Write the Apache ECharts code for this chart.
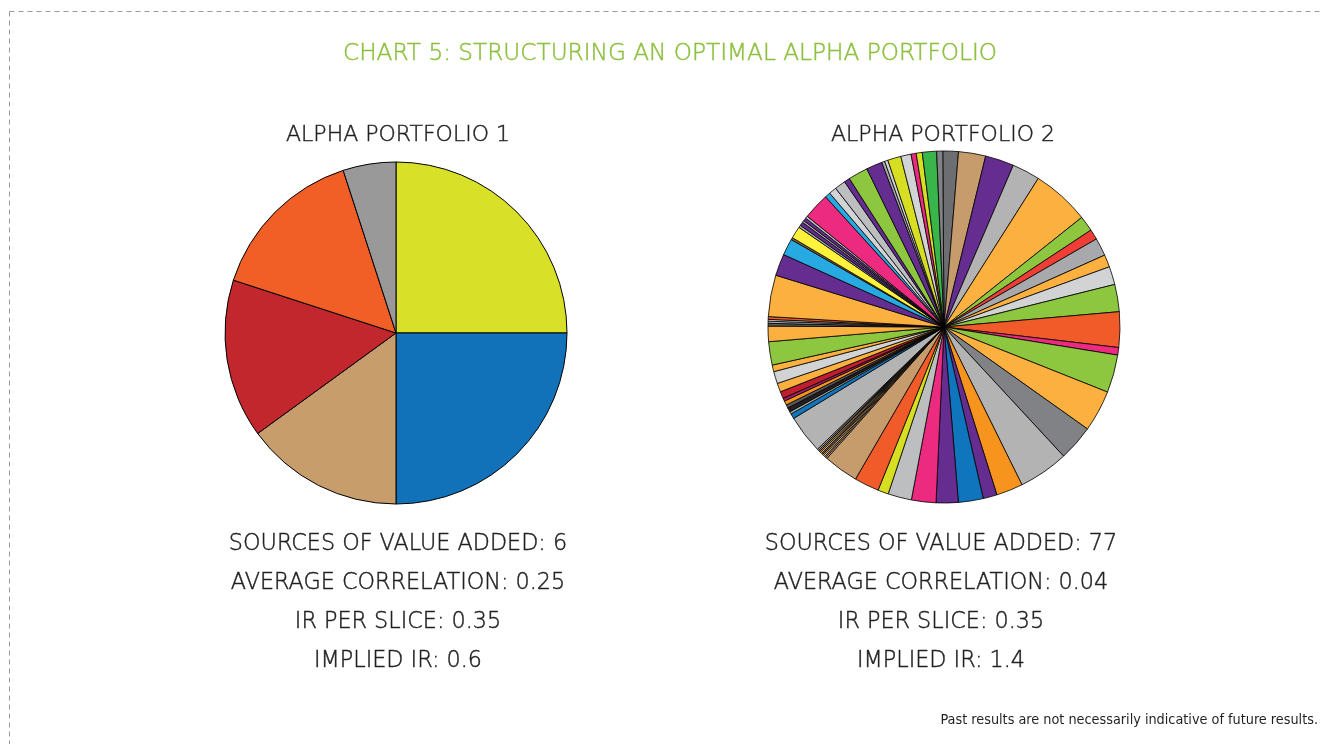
<!DOCTYPE html>
<html>
<head>
<meta charset="utf-8">
<script src="https://cdn.jsdelivr.net/npm/echarts@6/dist/echarts.min.js"></script>
<style>
html,body{margin:0;padding:0;background:#fff;}
#chart{width:1322px;height:744px;}
</style>
</head>
<body>
<div id="chart"></div>
<script>
// ---- Data ----
const chartTitle = 'CHART 5: STRUCTURING AN OPTIMAL ALPHA PORTFOLIO';
const pieTitles = ['ALPHA PORTFOLIO 1', 'ALPHA PORTFOLIO 2'];
const statLabels = ['SOURCES OF VALUE ADDED', 'AVERAGE CORRELATION', 'IR PER SLICE', 'IMPLIED IR'];
const p1Stats = ['6', '0.25', '0.35', '0.6'];
const p2Stats = ['77', '0.04', '0.35', '1.4'];
const footnote = 'Past results are not necessarily indicative of future results.';

// Portfolio 1: six slices (percent)
const p1Values = [25, 25, 15, 15, 15, 5];
const p1Colors = ['#d8e028', '#1171b9', '#c89d6c', '#c1272d', '#f15f27', '#999999'];

// Portfolio 2: 77 slices (relative size)
const p2Values = [
  5.15, 8.95, 9.5, 9.2, 19.1,
  5.1, 3.4, 5.9, 4.1, 6,
  9, 11.7, 2.5, 12.5, 13.7,
  11.8, 16.5, 8.8, 4.6, 8.2,
  7.3, 8.1, 7.8, 3.5, 8.2, 11.5,
  0.5, 0.45, 0.5, 0.45, 0.45, 0.5, 0.45, 0.5, 0.5,
  12.7, 1.7, 0.8, 1.4, 1.1,
  1.4, 1.0, 2.3, 2.9, 4.0,
  2.2, 7.7, 5.1,
  0.9, 0.7, 0.6, 0.9,
  13.7, 7.2, 5.5, 0.7, 4.0,
  0.8, 1.2, 0.7, 1.0, 0.8,
  8.7, 1.8, 2.5, 3.6, 1.9,
  6.5, 5.3, 1.0, 1.1, 4.4,
  3.4, 1.7, 2.0, 4.7, 2.0
];
const p2Colors = [
  '#6d6e71', '#c69c6d', '#662d91', '#b3b3b3', '#fbb040',
  '#8dc63f', '#ef3e36', '#a7a9ac', '#fbb040', '#d1d3d4',
  '#8dc63f', '#f15a29', '#ec2a7f', '#8dc63f', '#fbb040',
  '#808285', '#b3b3b3', '#f7941d', '#662d91', '#0f75bc',
  '#662d91', '#ec2a7f', '#bcbec0', '#d7df23', '#f15a29', '#c69c6d',
  '#a7a9ac', '#f7941d', '#d1d3d4', '#fbb040', '#8b5e3c', '#bcbec0', '#f7941d', '#808285', '#a7a9ac',
  '#b3b3b3', '#0f75bc', '#a7a9ac', '#231f20', '#58595b',
  '#f7941d', '#9e1f63', '#be1e2d', '#fbb040', '#d1d3d4',
  '#fbb040', '#8dc63f', '#fbb040',
  '#58595b', '#a7a9ac', '#d1d3d4', '#f15a29',
  '#fbb040', '#662d91', '#27aae1', '#8b5e3c', '#fff23a',
  '#a7a9ac', '#662d91', '#a7a9ac', '#662d91', '#bcbec0',
  '#ec2a7f', '#27aae1', '#d1d3d4', '#bcbec0', '#662d91',
  '#8dc63f', '#662d91', '#a7a9ac', '#d1d3d4', '#d7df23',
  '#d1d3d4', '#ec2a7f', '#d7df23', '#39b54a', '#808285'
];

// ---- Build ----
const chart = echarts.init(document.getElementById('chart'), null, {renderer: 'canvas'});
const FONT = '"DejaVu Sans", "Open Sans", sans-serif';
const INK = '#231f20';
const GREEN = '#8dc03f';

function pieData(vals, cols) {
  return vals.map((v, i) => ({
    name: 'Slice ' + (i + 1),
    value: v,
    itemStyle: {color: cols[i]}
  }));
}

function statText(stats) {
  return statLabels.map((l, i) => l + ': ' + stats[i]).join('\n');
}

function txt(x, y, text, size, color, extra) {
  return {
    type: 'text', x: x, y: y,
    style: Object.assign({
      text: text, fill: color, font: '300 ' + size + 'px ' + FONT,
      textAlign: 'center', textVerticalAlign: 'middle',
      stroke: color, lineWidth: 0.45
    }, extra || {})
  };
}

const option = {
  backgroundColor: '#ffffff',
  animation: false,
  series: [
    {
      type: 'pie',
      center: [396, 333],
      radius: [0, 171],
      startAngle: 90,
      clockwise: true,
      label: {show: false},
      labelLine: {show: false},
      silent: true,
      itemStyle: {borderColor: '#000', borderWidth: 1},
      data: pieData(p1Values, p1Colors)
    },
    {
      type: 'pie',
      center: [944, 327],
      radius: [0, 176],
      startAngle: 90.4,
      clockwise: true,
      label: {show: false},
      labelLine: {show: false},
      silent: true,
      itemStyle: {borderColor: '#000', borderWidth: 0.8},
      data: pieData(p2Values, p2Colors)
    }
  ],
  graphic: [
    {type: 'line', shape: {x1: 9.5, y1: 11.5, x2: 1322, y2: 11.5}, style: {stroke: '#9a9a9a', lineWidth: 1, lineDash: [5, 4]}},
    {type: 'line', shape: {x1: 9.5, y1: 11.5, x2: 9.5, y2: 744}, style: {stroke: '#9a9a9a', lineWidth: 1, lineDash: [5, 4]}},
    txt(670, 54, chartTitle, 23.2, GREEN),
    txt(398, 135, pieTitles[0], 22, INK),
    txt(943, 135, pieTitles[1], 22, INK),
    txt(398, 603, statText(p1Stats), 22.3, INK, {lineHeight: 39}),
    txt(941, 603, statText(p2Stats), 22.3, INK, {lineHeight: 39}),
    {type: 'text', x: 1318, y: 713, style: {text: footnote, fill: INK, font: '14.3px "Liberation Sans Narrow", "DejaVu Sans Condensed", sans-serif', textAlign: 'right'}}
  ]
};
chart.setOption(option);
</script>
</body>
</html>
